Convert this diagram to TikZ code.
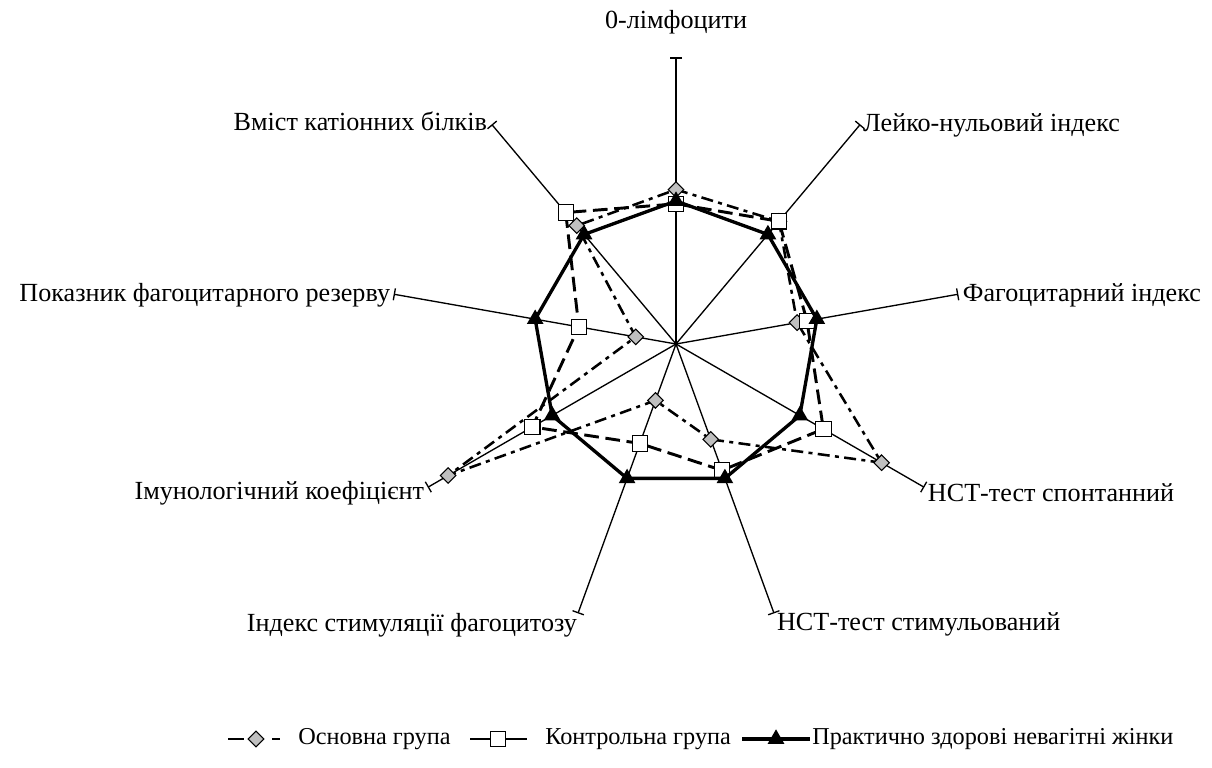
\documentclass[tikz,border=0pt]{standalone}
\usepackage{fontspec}
\setmainfont{Liberation Serif}
\usetikzlibrary{calc,shapes.geometric}
\begin{document}
\begin{tikzpicture}[x=0.75pt,y=0.75pt,
  lbl/.style={font=\fontsize{19.6}{22}\selectfont, inner sep=0pt},
  leg/.style={font=\fontsize{18.2}{20}\selectfont, inner sep=0pt},
  axisline/.style={line width=1pt},
  sera/.style={line width=1.9pt, dash pattern=on 9pt off 4pt on 3pt off 4pt},
  serb/.style={line width=2.2pt, dash pattern=on 11pt off 5pt},
  serc/.style={line width=2.5pt},
  dmark/.style={diamond, draw, fill=gray!50, line width=0.8pt, minimum width=12pt, minimum height=12pt, inner sep=0pt},
  smark/.style={rectangle, draw, fill=white, line width=0.8pt, minimum size=11.5pt, inner sep=0pt},
  tmark/.style={regular polygon, regular polygon sides=3, fill=black, minimum size=14.5pt, inner sep=0pt}
]
\useasboundingbox (0,0) rectangle (1212,767);
\coordinate (C) at (676,423);
% axes
\foreach \k in {0,...,8} {
  \coordinate (e\k) at ($(C)+({90-40*\k}:286)$);
  \coordinate (tl\k) at ($(e\k)+({-40*\k}:6)$);
  \coordinate (tr\k) at ($(e\k)+({180-40*\k}:6)$);
  \draw[axisline] (C) -- (e\k);
  \draw[axisline] (tl\k) -- (tr\k);
}
% data points
\foreach \v [count=\i from 0] in {0.54,0.56,0.43,0.83,0.355,0.21,0.92,0.143,0.54}
  \coordinate (a\i) at ($(C)+({90-40*\i}:{286*\v})$);
\foreach \v [count=\i from 0] in {0.49,0.56,0.465,0.595,0.47,0.37,0.58,0.345,0.60}
  \coordinate (b\i) at ($(C)+({90-40*\i}:{286*\v})$);
\foreach \v [count=\i from 0] in {0.5,0.5,0.5,0.5,0.5,0.5,0.5,0.5,0.5}
  \coordinate (c\i) at ($(C)+({90-40*\i}:{286*\v})$);
% series A
\draw[sera] (a0) -- (a1) -- (a2) -- (a3) -- (a4) -- (a5) -- (a6) -- (a7) -- (a8) -- cycle;
\foreach \i in {0,...,8} \node[dmark] (ma\i) at (a\i) {};
% series B
\draw[serb] (b0) -- (b1) -- (b2) -- (b3) -- (b4) -- (b5) -- (b6) -- (b7) -- (b8) -- cycle;
\foreach \i in {0,...,8} \node[smark] (mb\i) at (b\i) {};
% series C
\draw[serc] (c0) -- (c1) -- (c2) -- (c3) -- (c4) -- (c5) -- (c6) -- (c7) -- (c8) -- cycle;
\foreach \i in {0,...,8} \node[tmark] (mc\i) at (c\i) {};
% labels
\node[lbl] (l0) at ($(e0)+(0,36)$) {0-лімфоцити};
\node[lbl,anchor=west] (l1) at ($(e1)+(3,0)$) {Лейко-нульовий індекс};
\node[lbl,anchor=west] (l2) at ($(e2)+(5,-1)$) {Фагоцитарний індекс};
\node[lbl,anchor=west] (l3) at ($(e3)+(4,-6)$) {НСТ-тест спонтанний};
\node[lbl,anchor=west] (l4) at ($(e4)+(3,-12)$) {НСТ-тест стимульований};
\node[lbl,anchor=east] (l5) at ($(e5)+(-1,-12)$) {Індекс стимуляції фагоцитозу};
\node[lbl,anchor=east] (l6) at ($(e6)+(-4,-6)$) {Імунологічний коефіцієнт};
\node[lbl,anchor=east] (l7) at ($(e7)+(-4,-1)$) {Показник фагоцитарного резерву};
\node[lbl,anchor=east] (l8) at ($(e8)+(-5,4)$) {Вміст катіонних білків};
% legend
\coordinate (la1) at (228,28); \coordinate (la2) at (288,28);
\draw[line width=2.2pt, dash pattern=on 12pt off 21pt on 6pt off 20pt] (la1) -- (la2);
\node[dmark] (lma) at (256,28) {};
\node[leg,anchor=west] (lta) at (298,28) {Основна група};
\coordinate (lb1) at (470,28); \coordinate (lb2) at (527,28);
\draw[line width=2.2pt] (lb1) -- (lb2);
\node[smark] (lmb) at (498,28) {};
\node[leg,anchor=west] (ltb) at (545,28) {Контрольна група};
\coordinate (lc1) at (742,28); \coordinate (lc2) at (810,28);
\draw[line width=2.5pt] (lc1) -- (lc2);
\node[tmark] (lmc) at (776,28) {};
\node[leg,anchor=west] (ltc) at (812,28) {Практично здорові невагітні жінки};
\end{tikzpicture}
\end{document}
